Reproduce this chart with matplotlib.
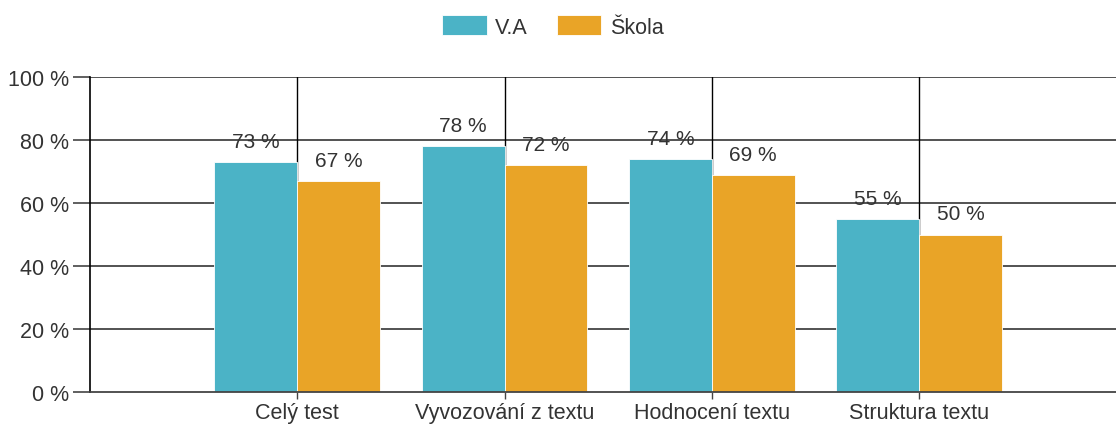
import matplotlib

matplotlib.use("Agg")
import matplotlib.pyplot as plt
import numpy as np

categories = ["Celý test", "Vyvozování z textu", "Hodnocení textu", "Struktura textu"]
va = [73, 78, 74, 55]
skola = [67, 72, 69, 50]
series_names = ["V.A", "Škola"]
yticks = [0, 20, 40, 60, 80, 100]

BLUE = "#4bb3c6"
ORANGE = "#e9a427"

plt.rcParams["font.family"] = ["Liberation Sans", "DejaVu Sans"]

fig = plt.figure(figsize=(11.16, 4.27), dpi=100)
ax = fig.add_axes([90 / 1116, 1 - 393 / 427, 1 - 90 / 1116, (393 - 78) / 427])

x = np.arange(len(categories))
w = 0.4
b1 = ax.bar(x - w / 2, va, w, color=BLUE, edgecolor="white", linewidth=0.6,
            label=series_names[0], zorder=2)
b2 = ax.bar(x + w / 2, skola, w, color=ORANGE, edgecolor="white", linewidth=0.6,
            label=series_names[1], zorder=2)

for bars, vals in ((b1, va), (b2, skola)):
    for r, v in zip(bars, vals):
        ax.annotate(f"{v} %", (r.get_x() + r.get_width() / 2, v),
                    xytext=(0, 8), textcoords="offset points",
                    ha="center", va="bottom", fontsize=15, color="#333333",
                    zorder=4)

# grid: horizontal gray lines, vertical black lines at categories
for yv in yticks[1:]:
    ax.axhline(yv, color="#444444", lw=1.3, zorder=1)
for xv in x:
    ax.axvline(xv, color="black", lw=1.0, zorder=1)

ax.set_xlim(-1, 3.95)
ax.set_ylim(0, 100)
ax.set_yticks(yticks)
ax.set_yticklabels([f"{t} %" for t in yticks])
ax.set_xticks(x)
ax.set_xticklabels(categories)
ax.tick_params(axis="y", length=12, width=1.2, color="#444444",
               labelsize=15.5, labelcolor="#333333", pad=3)
ax.tick_params(axis="x", length=5, width=1.0, color="#444444",
               labelsize=15.5, labelcolor="#333333", pad=2)

for s in ("top", "right"):
    ax.spines[s].set_visible(False)
ax.spines["left"].set_color("black")
ax.spines["left"].set_linewidth(1.2)
ax.spines["bottom"].set_color("#444444")
ax.spines["bottom"].set_linewidth(1.3)

fig.legend(loc="center", bbox_to_anchor=(553 / 1116, 1 - 27.5 / 427), ncol=2,
           frameon=False, fontsize=15.5, handlelength=2.05, handleheight=1.0,
           columnspacing=1.35, handletextpad=0.4, labelcolor="#333333")

fig.savefig("out.png", dpi=100)
